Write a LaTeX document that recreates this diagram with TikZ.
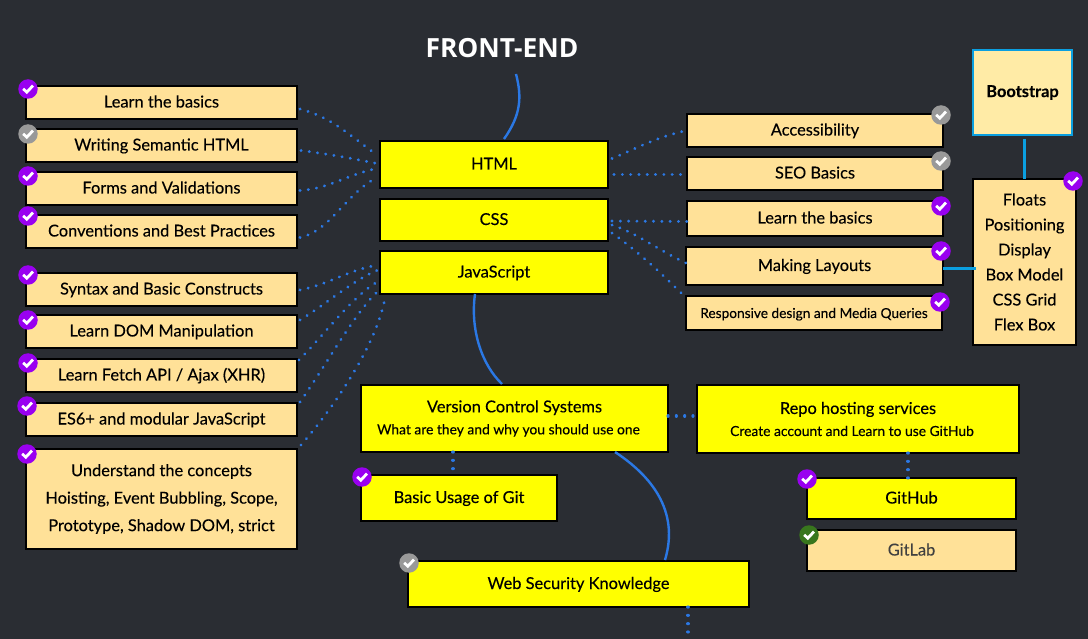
\documentclass[tikz,border=0pt]{standalone}
\usepackage{fontspec}
\setmainfont[FakeBold=0.2]{Lato}
\newfontfamily\titlefont{Open Sans}
\definecolor{bgc}{HTML}{2A2D33}
\definecolor{tan}{HTML}{FFE198}
\definecolor{paleb}{HTML}{FFEBA6}
\definecolor{yel}{HTML}{FFFF00}
\definecolor{linkb}{HTML}{2B78E4}
\definecolor{cyanb}{HTML}{0B9FE0}
\definecolor{purp}{HTML}{9900F0}
\definecolor{greyc}{HTML}{999999}
\definecolor{greenc}{HTML}{38761D}
\tikzset{
  x=1pt,y=-1pt,
  every node/.style={inner sep=0pt,outer sep=0pt,font=\fontsize{16.4}{19}\selectfont,text=black},
  boxbase/.style={draw=black,line width=2.2pt,rectangle,align=center},
  oneline/.style={text height=12.5pt,text depth=2.5pt},
  tanbox/.style={boxbase,fill=tan},
  yelbox/.style={boxbase,fill=yel},
  tanone/.style={tanbox,oneline},
  yelone/.style={yelbox,oneline},
  dotline/.style={draw=linkb,line width=3.1pt,line cap=round,dash pattern=on 0.1pt off 8.2pt},
  curveline/.style={draw=linkb,line width=2.4pt},
  cyanline/.style={draw=cyanb,line width=3pt},
  badge/.style={circle,minimum size=19.5pt},
  tick/.style={draw=white,line width=2.8pt,line cap=butt,line join=miter},
}
% \bx{style}{name}{x0}{y0}{x1}{y1}{text}
\newcommand{\bx}[7]{%
  \pgfmathsetmacro{\wdd}{#5-#3}\pgfmathsetmacro{\htt}{#6-#4}%
  \node[#1,minimum width=\wdd pt,minimum height=\htt pt] (#2) at ({(#3+#5)/2},{(#4+#6)/2}) {#7};}
% \chk{name}{x}{y}{colour}
\newcommand{\chk}[4]{%
  \node[badge,fill=#4] (#1) at (#2,#3) {};
  \draw[tick] ([shift={(-4.8pt,0.2pt)}]#1.center) -- ([shift={(-1.2pt,-3.2pt)}]#1.center) -- ([shift={(5pt,3.4pt)}]#1.center);}
\begin{document}
\begin{tikzpicture}
\useasboundingbox (0,0) rectangle (1088,639);
\fill[bgc] (0,0) rectangle (1088,639);

\node[text=white,font=\titlefont\bfseries\fontsize{26.4}{30}\selectfont] (title) at (502,48) {FRONT-END};

% left column
\bx{tanone}{la}{26}{86}{297}{119}{Learn the basics}
\bx{tanone}{lb}{26}{129}{297}{162}{Writing Semantic HTML}
\bx{tanone}{lc}{26}{172}{297}{205}{Forms and Validations}
\bx{tanone}{ld}{26}{215}{297}{248}{Conventions and Best Practices}
\bx{tanone}{je}{26}{273}{297}{306}{Syntax and Basic Constructs}
\bx{tanone}{jf}{26}{315}{297}{348}{Learn DOM Manipulation}
\bx{tanone}{jg}{26}{359}{297}{392}{Learn Fetch API / Ajax (XHR)}
\bx{tanone}{jh}{26}{403}{297}{436}{ES6+ and modular JavaScript}
\bx{tanbox}{ji}{26}{449}{297}{549}{Understand the concepts\\[8.5pt]Hoisting, Event Bubbling, Scope,\\[8.5pt]Prototype, Shadow DOM, strict}

% centre column
\bx{yelone}{html}{380}{141}{608}{188}{HTML}
\bx{yelone}{css}{380}{199}{608}{241}{CSS}
\bx{yelone}{js}{380}{251}{608}{294}{JavaScript}

% right column
\bx{tanone}{ra}{687}{114}{943}{147}{Accessibility}
\bx{tanone}{rb}{687}{157}{943}{190}{SEO Basics}
\bx{tanone}{rc}{687}{201}{943}{236}{Learn the basics}
\bx{tanone}{rd}{686}{247}{943}{285}{Making Layouts}
\bx{tanone}{re}{686}{296}{942}{330}{\fontsize{13.7}{16}\selectfont Responsive design and Media Queries}
\bx{boxbase,draw=cyanb,fill=paleb}{boot}{973}{50}{1072}{135}{\textbf{Bootstrap}}
\bx{tanbox}{flo}{973}{179}{1076}{345}{Floats\\[6pt]Positioning\\[6pt]Display\\[6pt]Box Model\\[6pt]CSS Grid\\[6pt]Flex Box}

% lower part
\bx{yelbox}{vcs}{361}{385}{668}{452}{Version Control Systems\\[3pt]{\fontsize{13.85}{16}\selectfont What are they and why you should use one\hspace*{12pt}}}
\bx{yelbox}{repo}{697}{385}{1019}{453}{Repo hosting services\\[3pt]{\fontsize{13.85}{16}\selectfont Create account and Learn to use GitHub\hspace*{12pt}}}
\bx{yelone}{git}{361}{475}{557}{521}{Basic Usage of Git}
\bx{yelone}{gh}{807}{478}{1016}{519}{GitHub}
\bx{tanone}{gl}{807}{530}{1016}{571}{\color{black!75}GitLab}
\bx{yelone}{web}{408}{561}{749}{607}{Web Security Knowledge}
\coordinate (downend) at (688,639);

% connectors
\draw[dotline] ([shift={(3pt,-6.5pt)}]la.east) .. controls +(30,8) and +(-30,-22) .. ([shift={(-5pt,11pt)}]html.west);
\draw[dotline] ([shift={(4pt,-5pt)}]lb.east) .. controls +(30,4) and +(-30,-6) .. ([shift={(-3pt,1pt)}]html.west);
\draw[dotline] ([shift={(3pt,-2pt)}]lc.east) .. controls +(30,-2) and +(-30,6) .. ([shift={(-3pt,-4pt)}]html.west);
\draw[dotline] ([shift={(3pt,-6pt)}]ld.east) .. controls +(30,-6) and +(-30,15) .. ([shift={(-3pt,-13pt)}]html.west);
\draw[dotline] ([shift={(3pt,-0.5pt)}]je.east) .. controls +(30,-6) and +(-30,5) .. ([shift={(-2pt,7.5pt)}]js.west);
\draw[dotline] ([shift={(3pt,-5pt)}]jf.north east) .. controls +(25,-15) and +(-25,10) .. ([shift={(-2pt,2.5pt)}]js.west);
\draw[dotline] ([shift={(2pt,-1pt)}]jg.north east) .. controls +(25,-25) and +(-25,15) .. ([shift={(-3pt,-9.5pt)}]js.west);
\draw[dotline] ([shift={(3pt,1pt)}]jh.north east) .. controls +(25,-35) and +(-25,25) .. ([shift={(-3pt,-19.5pt)}]js.west);
\draw[dotline] ([shift={(4pt,4pt)}]ji.north east) .. controls +(35,-40) and +(-8,45) .. ([shift={(0pt,-4pt)}]js.south -| 385,0);
\draw[dotline] ([shift={(4pt,6pt)}]html.east) .. controls +(20,-8) and +(-30,6) .. ([shift={(0pt,0pt)}]ra.west);
\draw[dotline] ([shift={(6pt,-10pt)}]html.east) -- ([shift={(0pt,-1pt)}]rb.west);
\draw[dotline] ([shift={(4pt,-1pt)}]css.east) -- ([shift={(0pt,-3pt)}]rc.west);
\draw[dotline] ([shift={(4pt,-5pt)}]css.east) .. controls +(25,8) and +(-30,-14) .. ([shift={(0pt,3pt)}]rd.west);
\draw[dotline] ([shift={(4pt,-13pt)}]css.east) .. controls +(20,14) and +(-25,-26) .. ([shift={(0pt,-2pt)}]re.north west);
\draw[dotline] (vcs.east |- 0,416) -- (repo.west |- 0,416);
\draw[dotline] (vcs.south -| 453,0) -- (git.north -| 453,0);
\draw[dotline] (repo.south -| 908,0) -- (gh.north -| 908,0);
\draw[dotline] (web.south -| downend) -- (downend);

\draw[curveline] (516,74) .. controls (522,97) and (521,115) .. (504,139);
\draw[curveline] (js.south -| 475,0) .. controls (470,330) and (482,365) .. (502,384);
\draw[curveline] (vcs.south -| 615,0) .. controls (650,475) and (680,510) .. (665,560);
\draw[cyanline] (boot.south -| 1024,0) ++(0,4) -- (flo.north -| 1024,0);
\draw[cyanline] (rd.east |- 0,269) -- ([xshift=3pt]flo.west |- 0,269);

% status badges
\chk{k1}{28}{89}{purp}
\chk{k2}{28}{134}{greyc}
\chk{k3}{28}{176}{purp}
\chk{k4}{28}{216}{purp}
\chk{k5}{28}{275}{purp}
\chk{k6}{28}{320}{purp}
\chk{k7}{28}{363}{purp}
\chk{k8}{27}{406}{purp}
\chk{k9}{27}{454}{purp}
\chk{k10}{941}{115}{greyc}
\chk{k11}{941}{161}{greyc}
\chk{k12}{941}{206}{purp}
\chk{k13}{941}{251}{purp}
\chk{k14}{940}{302}{purp}
\chk{k15}{1073}{181}{purp}
\chk{k16}{362}{477}{purp}
\chk{k17}{807}{479}{purp}
\chk{k18}{809}{535}{greenc}
\chk{k19}{409}{563}{greyc}
\end{tikzpicture}
\end{document}
